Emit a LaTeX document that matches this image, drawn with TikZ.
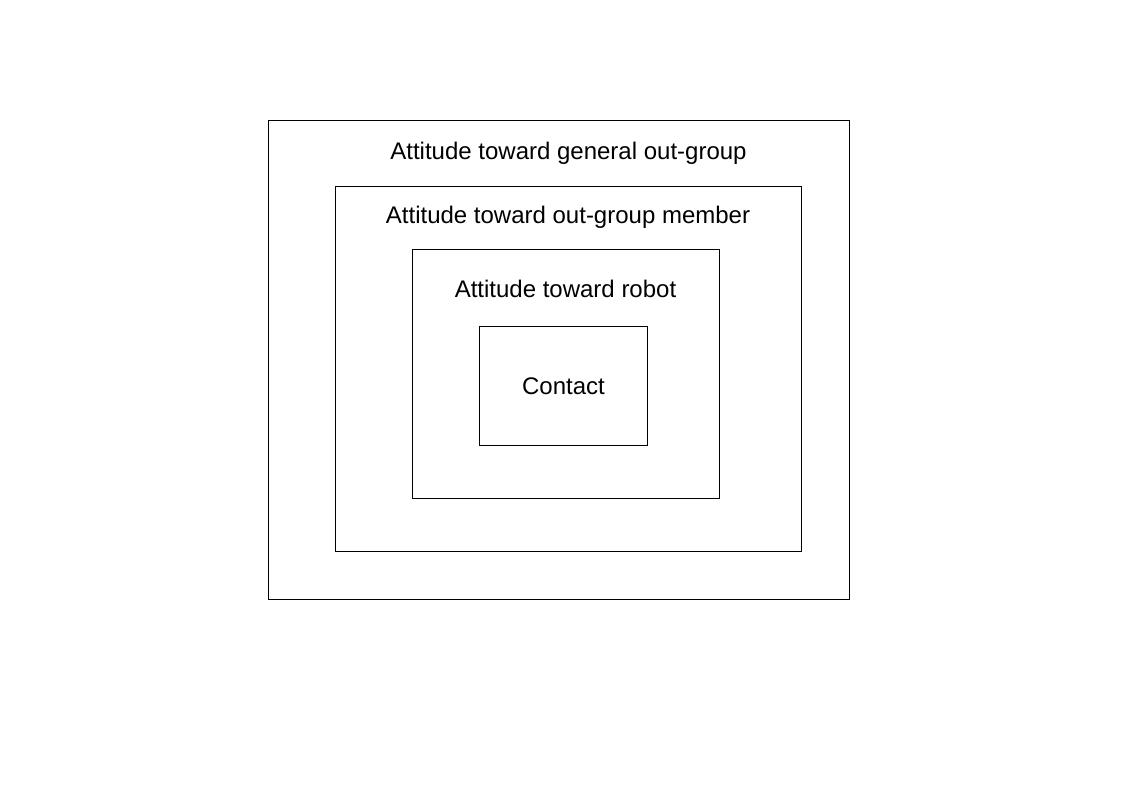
\documentclass[tikz,border=0pt]{standalone}
\usepackage{fontspec}
\setmainfont{Liberation Sans}
\begin{document}
\begin{tikzpicture}[x=1pt,y=-1pt,
  box/.style={draw=black,line width=0.9pt,inner sep=0pt,rectangle},
  lbl/.style={font=\fontsize{24}{28}\selectfont,inner sep=0pt,anchor=center}]
\useasboundingbox[fill=white] (0,0) rectangle (1123,794);
\node[box,minimum width=581pt,minimum height=479pt] (b1) at (558.5,359.5) {};
\node[box,minimum width=466pt,minimum height=365pt] (b2) at (568,368.5) {};
\node[box,minimum width=307pt,minimum height=249pt] (b3) at (565.5,373.5) {};
\node[box,minimum width=168pt,minimum height=119pt] (b4) at (563,385.5) {};
\node[lbl] (t1) at (568.5,153) {Attitude toward general out-group};
\node[lbl] (t2) at (568,217) {Attitude toward out-group member};
\node[lbl] (t3) at (565.5,288.5) {Attitude toward robot};
\node[lbl] (t4) at (563.5,386) {Contact};
\end{tikzpicture}
\end{document}
